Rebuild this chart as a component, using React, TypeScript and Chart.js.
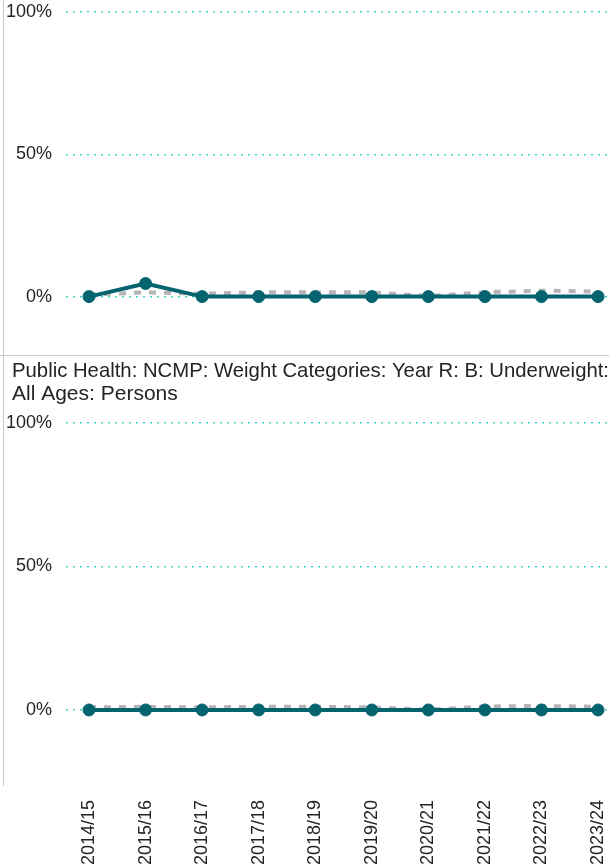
import React, { useEffect, useRef } from "react";
import { Chart, registerables } from "chart.js";

Chart.register(...registerables);

const categories = [
  "2014/15", "2015/16", "2016/17", "2017/18", "2018/19",
  "2019/20", "2020/21", "2021/22", "2022/23", "2023/24",
];
const topLocal = [0, 4.6, 0, 0, 0, 0, 0, 0, 0, 0];
const topComparator = [0.7, 1.5, 1.0, 1.5, 1.5, 1.5, 0.2, 1.5, 2.1, 1.8];
const bottomLocal = [0, 0, 0, 0, 0, 0, 0, 0, 0, 0];
const bottomComparator = [0.9, 1.1, 0.9, 1.1, 1.1, 0.9, 0.1, 1.2, 1.4, 1.1];
const yTicks = [0, 50, 100];
const bottomTitle = [
  "Public Health: NCMP: Weight Categories: Year R: B: Underweight:",
  "All Ages: Persons",
];

const FONT = "'Liberation Sans', Arial, sans-serif";
const TEXT = "#252423";
const TEAL = "#03636f";
const GRAY = "#b5b5b5";
const GRID = "#3fd3c8";

const titleIndent = {
  id: "titleIndent",
  afterLayout(chart: any) {
    if (chart.titleBlock) chart.titleBlock.left = 12;
  },
};

function makeConfig(local: number[], comparator: number[], bottom: boolean, yMin: number, title: string[] | null) {
  return {
    type: "line" as const,
    data: {
      datasets: [
        {
          label: "Local",
          data: local.map((v, i) => ({ x: i, y: v })),
          borderColor: TEAL,
          backgroundColor: TEAL,
          borderWidth: 4,
          pointRadius: 6,
          pointBackgroundColor: TEAL,
          pointBorderColor: TEAL,
          pointBorderWidth: 1,
          tension: 0,
          order: 1,
        },
        {
          label: "Comparator",
          data: comparator.map((v, i) => ({ x: i, y: v })),
          borderColor: GRAY,
          borderWidth: 4,
          borderDash: [7, 8],
          pointRadius: 0,
          tension: 0,
          order: 2,
        },
      ],
    },
    plugins: [titleIndent],
    options: {
      responsive: false,
      animation: false,
      layout: {
        autoPadding: false,
        padding: { left: 0, right: 0, top: title ? 0 : 12, bottom: bottom ? 0 : 10 },
      },
      plugins: {
        legend: { display: false },
        tooltip: { enabled: false },
        title: title
          ? {
              display: true,
              text: title,
              align: "start",
              color: TEXT,
              font: { family: FONT, size: 21, weight: "normal", lineHeight: 1.1 },
              padding: { top: 4, bottom: 16.8 },
            }
          : { display: false },
      },
      scales: {
        x: {
          type: "linear",
          display: bottom,
          min: -0.407,
          max: 9.194,
          afterBuildTicks: (s: any) => {
            s.ticks = categories.map((_, i) => ({ value: i }));
          },
          afterFit: (s: any) => {
            if (bottom) s.height = 81;
            s.paddingLeft = 0;
            s.paddingRight = 0;
          },
          ticks: {
            autoSkip: false,
            maxRotation: 90,
            minRotation: 90,
            padding: 6,
            color: TEXT,
            font: { family: FONT, size: 18 },
            callback: (v: any) => categories[Math.round(Number(v))] ?? "",
          },
          grid: { display: false },
          border: { display: false },
        },
        y: {
          min: yMin,
          max: 100,
          afterBuildTicks: (s: any) => {
            s.ticks = yTicks.map((v) => ({ value: v }));
          },
          afterFit: (s: any) => {
            s.width = 66;
            s.paddingTop = 0;
            s.paddingBottom = 0;
          },
          ticks: {
            padding: 14,
            color: TEXT,
            font: { family: FONT, size: 18 },
            callback: (v: any) => v + "%",
          },
          grid: { color: GRID, lineWidth: 1.5, drawTicks: false },
          border: { display: false, dash: [2, 5] },
        },
      },
    },
  };
}

function ChartCanvas({ width, height, config }: { width: number; height: number; config: any }) {
  const ref = useRef<HTMLCanvasElement | null>(null);
  useEffect(() => {
    if (!ref.current) return;
    const chart = new Chart(ref.current, config);
    return () => chart.destroy();
  }, []);
  return <canvas ref={ref} width={width} height={height} style={{ display: "block", width, height }} />;
}

export default function App() {
  return (
    <div style={{ position: "absolute", left: 0, top: 0, width: 609, height: 867, background: "#fff", overflow: "hidden" }}>
      <div style={{ position: "absolute", left: 0, top: 0 }}>
        <ChartCanvas width={609} height={355} config={makeConfig(topLocal, topComparator, false, -17, null)} />
      </div>
      <div style={{ position: "absolute", left: 0, top: 356 }}>
        <ChartCanvas width={609} height={511} config={makeConfig(bottomLocal, bottomComparator, true, -26.5, bottomTitle)} />
      </div>
      <div style={{ position: "absolute", left: 0, top: 355, width: 609, height: 1, background: "#c8c8c8" }} />
      <div style={{ position: "absolute", left: 3, top: 0, width: 1, height: 786, background: "#c8c8c8" }} />
    </div>
  );
}
